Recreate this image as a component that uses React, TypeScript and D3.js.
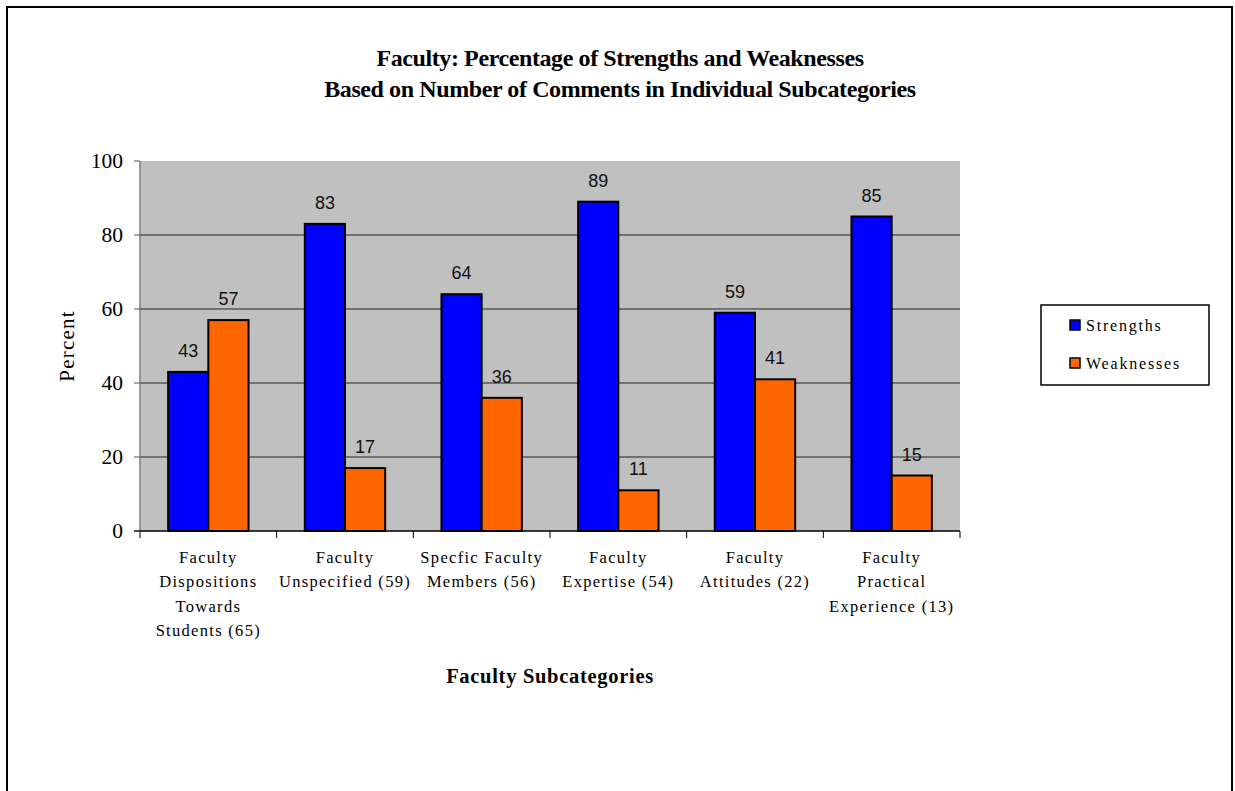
import React from "react";
import * as d3 from "d3";

const categories: string[][] = [
  ["Faculty", "Dispositions", "Towards", "Students (65)"],
  ["Faculty", "Unspecified (59)"],
  ["Specfic Faculty", "Members (56)"],
  ["Faculty", "Expertise (54)"],
  ["Faculty", "Attitudes (22)"],
  ["Faculty", "Practical", "Experience (13)"],
];
const strengths = [43, 83, 64, 89, 59, 85];
const weaknesses = [57, 17, 36, 11, 41, 15];
const yTicks = [0, 20, 40, 60, 80, 100];
const seriesNames = ["Strengths", "Weaknesses"];
const seriesColors = ["#0000ff", "#ff6600"];

const W = 1235;
const H = 791;
const plot = { left: 140, right: 960, top: 161, bottom: 531 };
const serif = "'Liberation Serif', 'Times New Roman', serif";
const sans = "'Liberation Sans', Arial, sans-serif";

export default function App() {
  const x = d3
    .scaleBand<number>()
    .domain(categories.map((_, i) => i))
    .range([plot.left, plot.right]);
  const inner = d3
    .scaleBand<number>()
    .domain([0, 1])
    .range([0, x.bandwidth()])
    .paddingOuter(0.7)
    .paddingInner(0);
  const y = d3.scaleLinear().domain([0, 100]).range([plot.bottom, plot.top]);
  const series = [strengths, weaknesses];

  return (
    <svg
      width={W}
      height={H}
      style={{ position: "absolute", left: 0, top: 0, background: "#fff" }}
    >
      <rect x={7} y={7} width={1225} height={800} fill="#fff" stroke="#000" strokeWidth={2} />

      <g fontFamily={serif} fontWeight="bold" fontSize={24} textAnchor="middle" letterSpacing={-0.4}>
        <text x={620} y={66}>Faculty: Percentage of Strengths and Weaknesses</text>
        <text x={620} y={97}>Based on Number of Comments in Individual Subcategories</text>
      </g>

      <rect
        x={plot.left}
        y={plot.top}
        width={plot.right - plot.left}
        height={plot.bottom - plot.top}
        fill="#c0c0c0"
      />
      {yTicks.slice(1, -1).map((t) => (
        <line key={t} x1={plot.left} x2={plot.right} y1={y(t)} y2={y(t)} stroke="#222" strokeWidth={1} />
      ))}

      {series.map((vals, s) =>
        vals.map((v, i) => (
          <g key={`${s}-${i}`}>
            <rect
              x={(x(i) ?? 0) + (inner(s) ?? 0)}
              y={y(v)}
              width={inner.bandwidth()}
              height={y(0) - y(v)}
              fill={seriesColors[s]}
              stroke="#000"
              strokeWidth={2}
            />
            <text
              x={(x(i) ?? 0) + (inner(s) ?? 0) + inner.bandwidth() / 2}
              y={y(v) - 15}
              textAnchor="middle"
              fontFamily={sans}
              fontSize={18}
              fill="#111"
            >
              {v}
            </text>
          </g>
        ))
      )}

      <line x1={plot.left} x2={plot.left} y1={plot.top} y2={plot.bottom} stroke="#808080" strokeWidth={1.5} />
      <line x1={plot.left - 6} x2={plot.right} y1={plot.bottom} y2={plot.bottom} stroke="#000" strokeWidth={1.5} />

      {yTicks.map((t) => (
        <g key={t}>
          <line x1={plot.left - 6} x2={plot.left} y1={y(t)} y2={y(t)} stroke="#555" />
          <text x={plot.left - 17} y={y(t) + 7} textAnchor="end" fontFamily={serif} fontSize={21.5}>
            {t}
          </text>
        </g>
      ))}

      {[...categories.map((_, i) => x(i) ?? 0), plot.right].map((px, i) => (
        <line key={i} x1={px} x2={px} y1={plot.bottom} y2={plot.bottom + 7} stroke="#000" />
      ))}

      {categories.map((lines, i) => (
        <text
          key={i}
          x={(x(i) ?? 0) + x.bandwidth() / 2}
          textAnchor="middle"
          fontFamily={serif}
          fontSize={16.5}
          letterSpacing={1.3}
        >
          {lines.map((l, j) => (
            <tspan key={j} x={(x(i) ?? 0) + x.bandwidth() / 2} y={563 + j * 24.3}>
              {l}
            </tspan>
          ))}
        </text>
      ))}

      <text
        x={(plot.left + plot.right) / 2}
        y={683}
        textAnchor="middle"
        fontFamily={serif}
        fontWeight="bold"
        fontSize={20.5}
        letterSpacing={0.7}
      >
        Faculty Subcategories
      </text>

      <text
        transform={`translate(74,${(plot.top + plot.bottom) / 2}) rotate(-90)`}
        textAnchor="middle"
        fontFamily={serif}
        fontSize={21}
        letterSpacing={1.2}
      >
        Percent
      </text>

      <rect x={1041} y={305} width={168} height={80} fill="#fff" stroke="#000" strokeWidth={1.5} />
      {seriesNames.map((n, s) => (
        <g key={n}>
          <rect
            x={1070}
            y={320 + s * 38}
            width={10}
            height={10}
            fill={seriesColors[s]}
            stroke="#000"
            strokeWidth={1.5}
          />
          <text x={1086} y={331 + s * 38} fontFamily={serif} fontSize={16} letterSpacing={1.8}>
            {n}
          </text>
        </g>
      ))}
    </svg>
  );
}
